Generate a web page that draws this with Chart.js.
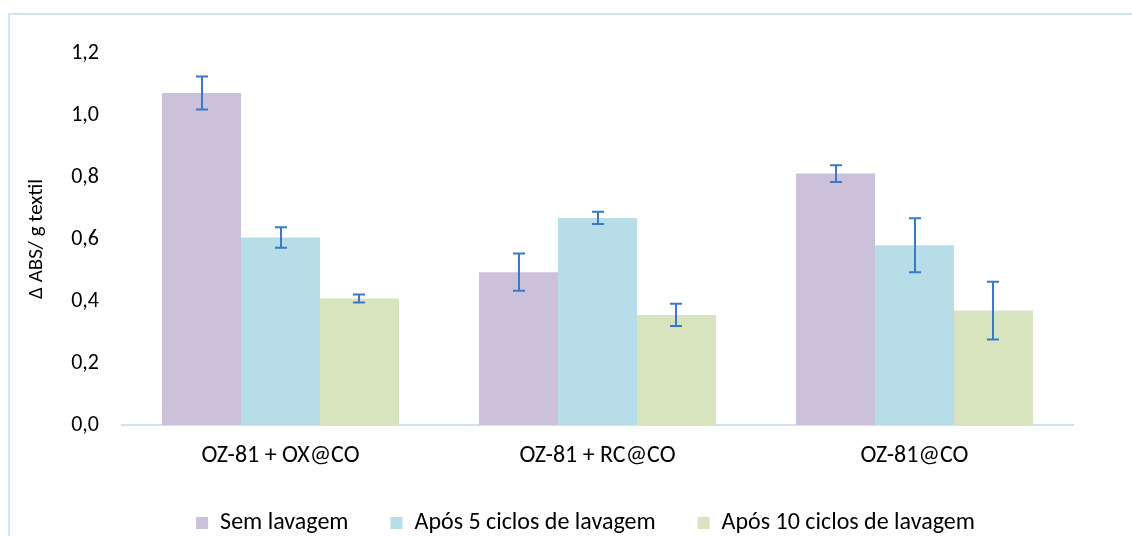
<!DOCTYPE html>
<html>
<head>
<meta charset="utf-8">
<script src="https://cdn.jsdelivr.net/npm/chart.js@4"></script>
<style>
  html, body { margin: 0; padding: 0; background: #fff; }
  #wrap { position: relative; width: 1132px; height: 536px; }
</style>
</head>
<body>
<div id="wrap"><canvas id="c" width="1132" height="536"></canvas></div>
<script>
const categories = ['OZ-81 + OX@CO', 'OZ-81 + RC@CO', 'OZ-81@CO'];
const seriesNames = ['Sem lavagem', 'Após 5 ciclos de lavagem', 'Após 10 ciclos de lavagem'];
const semLavagem = [1.071, 0.493, 0.811];
const apos5 = [0.605, 0.668, 0.580];
const apos10 = [0.408, 0.355, 0.369];
const errSem = [0.053, 0.060, 0.027];
const errApos5 = [0.033, 0.020, 0.087];
const errApos10 = [0.013, 0.036, 0.093];
const yTickLabels = ['0,0', '0,2', '0,4', '0,6', '0,8', '1,0', '1,2'];

const FONT = "Carlito, Calibri, Lato, 'Open Sans', sans-serif";

// white page with a thin light-blue frame around the chart
const frame = {
  id: 'frame',
  beforeDraw(chart) {
    const ctx = chart.ctx;
    ctx.save();
    ctx.fillStyle = '#ffffff';
    ctx.fillRect(0, 0, chart.width, chart.height);
    ctx.strokeStyle = '#d5e3f4';
    ctx.lineWidth = 2;
    ctx.strokeRect(9, 14, 3000, 3000);
    ctx.restore();
  }
};

// nudge the legend row slightly left of the plot centre
const legendShift = {
  id: 'legendShift',
  afterLayout(chart) {
    if (chart.legend) {
      chart.legend.left -= 12;
      chart.legend.right -= 12;
    }
  }
};

// standard-deviation whiskers on top of each bar
const errorBars = {
  id: 'errorBars',
  afterDatasetsDraw(chart) {
    const ctx = chart.ctx;
    const y = chart.scales.y;
    ctx.save();
    ctx.strokeStyle = '#3a78c8';
    ctx.lineWidth = 2;
    chart.data.datasets.forEach((ds, i) => {
      const meta = chart.getDatasetMeta(i);
      meta.data.forEach((bar, j) => {
        const v = ds.data[j], e = ds.errors[j];
        const top = y.getPixelForValue(v + e);
        const bot = y.getPixelForValue(v - e);
        const x = Math.round(bar.x);
        ctx.beginPath();
        ctx.moveTo(x, top); ctx.lineTo(x, bot);
        ctx.moveTo(x - 6, top); ctx.lineTo(x + 6, top);
        ctx.moveTo(x - 6, bot); ctx.lineTo(x + 6, bot);
        ctx.stroke();
      });
    });
    ctx.restore();
  }
};

new Chart(document.getElementById('c'), {
  type: 'bar',
  data: {
    labels: categories,
    datasets: [
      { label: seriesNames[0], data: semLavagem, errors: errSem, backgroundColor: '#ccc1da' },
      { label: seriesNames[1], data: apos5, errors: errApos5, backgroundColor: '#b7dde8' },
      { label: seriesNames[2], data: apos10, errors: errApos10, backgroundColor: '#d7e4bd' }
    ]
  },
  options: {
    responsive: false,
    animation: false,
    devicePixelRatio: 1,
    layout: { padding: { top: 53, right: 0, bottom: -9, left: 0 } },
    datasets: { bar: { categoryPercentage: 0.7476, barPercentage: 1.0 } },
    plugins: {
      legend: {
        position: 'bottom',
        fullSize: false,
        labels: {
          font: { family: FONT, size: 24 },
          color: '#000',
          boxWidth: 12,
          boxHeight: 12,
          padding: 42
        }
      },
      tooltip: { enabled: false }
    },
    scales: {
      x: {
        grid: { display: false, drawTicks: false },
        border: { display: true, color: '#d6e0ee', width: 2 },
        ticks: { font: { family: FONT, size: 24 }, color: '#000', padding: 17 },
        afterFit(s) { s.height = 44; }
      },
      y: {
        min: 0, max: 1.2,
        grid: { display: false, drawTicks: false },
        border: { display: false },
        ticks: {
          stepSize: 0.2,
          font: { family: FONT, size: 22 },
          color: '#000',
          padding: 23,
          callback: (v, i) => yTickLabels[i]
        },
        title: {
          display: true,
          text: 'Δ ABS/ g textil',
          font: { family: FONT, size: 21 },
          color: '#000',
          padding: { top: 24, bottom: 0 }
        },
        afterFit(s) { s.width = 122; }
      },
      yRight: {
        position: 'right',
        display: true,
        grid: { display: false, drawTicks: false },
        border: { display: false },
        ticks: { display: false },
        afterFit(s) { s.width = 59; }
      }
    }
  },
  plugins: [frame, legendShift, errorBars]
});
</script>
</body>
</html>
